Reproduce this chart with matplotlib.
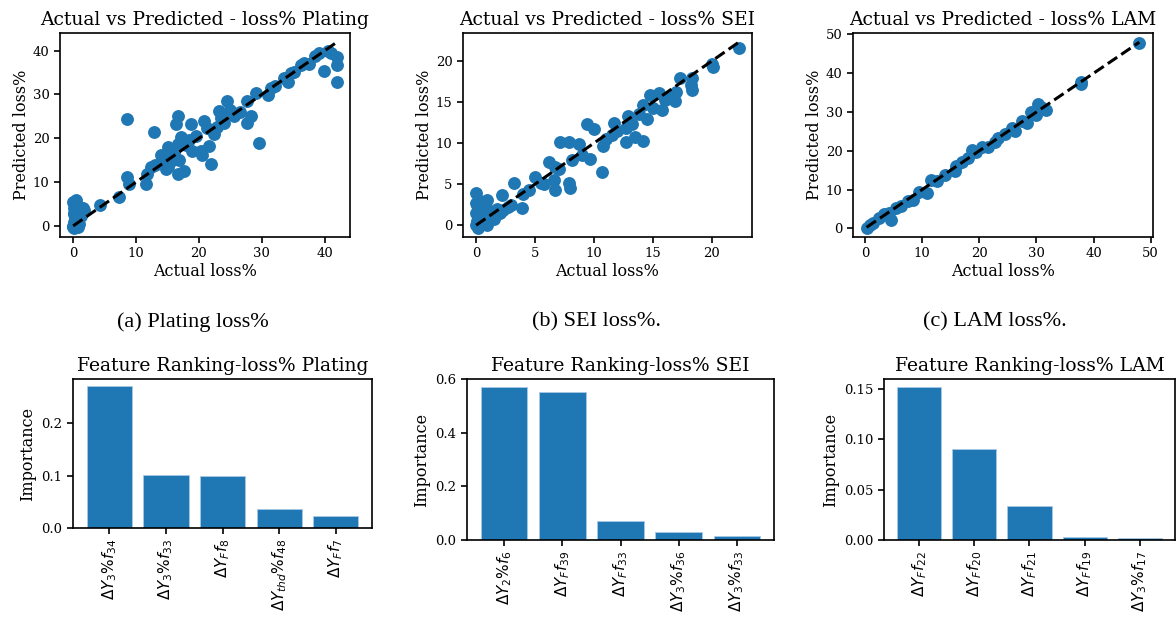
import matplotlib
matplotlib.use("Agg")
import matplotlib.pyplot as plt
from matplotlib.ticker import MultipleLocator
import numpy as np

plt.rcParams['font.family'] = 'DejaVu Serif'

# --- scatter data: actual vs predicted ---
plating_actual = [0.0, 0.2, 0.1, 0.3, 0.2, 0.1, 0.3, 0.5, 0.0, 0.8, 1.0, 1.5, 1.8, 0.6, 1.0,
                  0.8, 0.4, 0.7, 1.2, 0.0, 0.2, 0.8, 0.5, 0.1,
                  4.3, 7.3, 8.6, 8.9, 8.6, 11.5, 11.8, 12.3, 12.8, 13.9, 15.0, 15.5, 15.0,
                  16.0, 16.6, 17.6, 16.6, 17.1, 18.4, 18.9, 16.6, 16.3, 18.7, 20.8, 20.3,
                  20.5, 21.6, 21.9, 22.4, 21.3, 23.2, 23.5, 24.5, 25.6, 27.7, 28.2, 27.7,
                  29.0, 29.5, 30.9, 31.4, 34.1, 34.6, 35.1, 36.2, 36.7, 39.1, 39.8, 41.0,
                  41.9, 41.9, 41.9, 14.5, 15.8, 16.9, 17.2, 19.5, 22.8, 24.0, 26.5, 32.0,
                  33.5, 37.5, 38.5, 40.5, 13.0, 18.0, 14.8, 25.0]
plating_pred = [0.0, 0.5, 1.0, 2.0, 3.0, 4.0, 5.0, 5.8, 5.5, 4.5, 3.5, 4.0, 3.6, 2.5, 0.5,
                0.2, 1.5, 1.0, 2.2, -0.3, -0.4, -0.2, 4.8, 2.8,
                4.8, 6.6, 11.1, 9.6, 24.3, 9.6, 11.9, 13.4, 21.5, 16.1, 13.4, 14.9, 18.0,
                16.5, 11.9, 12.6, 18.6, 20.2, 19.7, 17.2, 25.0, 23.2, 23.2, 23.9, 17.2,
                16.1, 18.3, 14.1, 21.0, 22.4, 26.2, 24.7, 28.4, 25.0, 23.5, 25.0, 28.4,
                30.3, 18.9, 29.9, 31.4, 32.9, 34.8, 35.2, 36.7, 37.2, 39.4, 35.4, 39.4,
                32.8, 36.7, 38.6, 15.5, 17.0, 15.0, 19.0, 20.5, 22.5, 23.5, 26.0, 32.0,
                33.8, 37.0, 38.8, 40.0, 13.8, 18.5, 13.0, 26.5]

sei_actual = [0.0, 0.1, 0.2, 0.0, 0.3, 0.5, 0.1, 0.4, 0.8, 1.0, 1.3, 0.2, 0.6, 0.0, 0.9,
              1.5, 2.0, 0.3, 0.7, 0.0,
              0.9, 2.2, 2.3, 3.2, 3.9, 4.5, 5.0, 6.2, 6.7, 6.6, 6.7, 7.1, 7.9, 8.0, 8.1,
              7.9, 8.7, 9.7, 9.4, 10.0, 10.7, 10.8, 11.7, 12.7, 13.2, 12.9, 12.7, 13.5,
              14.2, 14.2, 14.8, 15.5, 15.8, 16.3, 16.9, 17.3, 18.2, 18.3, 18.3, 20.0,
              20.1, 22.3, 3.0, 4.0, 5.5, 7.0, 9.0, 11.0, 12.0, 13.8, 15.0, 16.0, 17.0,
              2.7, 1.8, 5.8, 11.5, 14.5]
sei_pred = [0.0, 0.5, 1.0, 1.5, 2.0, 0.3, 2.5, 1.2, 0.6, 1.8, 1.0, -0.3, 2.3, 2.7, 0.0,
            0.8, 1.5, 3.0, 0.2, 3.9,
            3.1, 3.7, 1.9, 5.1, 2.1, 4.3, 5.9, 7.7, 7.1, 5.5, 4.3, 10.1, 10.1, 4.5, 7.9,
            5.1, 9.9, 8.1, 12.3, 11.7, 6.5, 9.7, 12.5, 11.9, 12.3, 13.3, 10.1, 10.7,
            14.7, 10.3, 15.9, 16.1, 14.1, 15.5, 15.1, 17.9, 17.1, 17.9, 16.5, 19.7,
            19.3, 21.6, 2.5, 3.8, 5.2, 6.8, 8.5, 10.5, 11.5, 13.5, 14.3, 15.3, 16.2,
            2.2, 2.0, 5.0, 11.0, 13.0]

lam_actual = [0.3, 0.9, 3.3, 4.2, 4.5, 6.3, 8.5, 10.9, 11.5, 12.7, 15.7, 16.0, 18.1, 18.7,
              20.5, 22.7, 23.3, 25.7, 26.3, 28.4, 29.9, 30.2, 31.7, 37.8, 37.8, 48.0,
              1.5, 2.5, 5.5, 7.5, 9.5, 14.0, 17.0, 19.5, 21.5, 24.5, 27.5, 29.0, 30.8]
lam_pred = [0.2, 1.0, 3.6, 4.0, 2.3, 5.7, 7.4, 9.1, 12.6, 12.1, 14.7, 16.0, 18.1, 20.3,
            21.1, 22.4, 23.2, 25.8, 25.0, 27.1, 29.2, 32.2, 30.5, 37.8, 37.3, 47.8,
            1.3, 2.6, 5.2, 7.0, 9.4, 13.8, 17.2, 19.6, 21.0, 24.3, 27.8, 30.0, 31.2]

# --- feature ranking data ---
plating_feats = [r'$\Delta Y_3\%f_{34}$', r'$\Delta Y_3\%f_{33}$', r'$\Delta Y_Ff_8$',
                 r'$\Delta Y_{thd}\%f_{48}$', r'$\Delta Y_Ff_7$']
plating_imp = [0.271, 0.102, 0.0997, 0.036, 0.0235]

sei_feats = [r'$\Delta Y_2\%f_6$', r'$\Delta Y_Ff_{39}$', r'$\Delta Y_Ff_{33}$',
             r'$\Delta Y_3\%f_{36}$', r'$\Delta Y_3\%f_{33}$']
sei_imp = [0.572, 0.554, 0.0725, 0.031, 0.014]

lam_feats = [r'$\Delta Y_Ff_{22}$', r'$\Delta Y_Ff_{20}$', r'$\Delta Y_Ff_{21}$',
             r'$\Delta Y_Ff_{19}$', r'$\Delta Y_3\%f_{17}$']
lam_imp = [0.152, 0.0901, 0.0336, 0.003, 0.0023]

names = ['Plating', 'SEI', 'LAM']
captions = ['(a) Plating loss%', '(b) SEI loss%.', '(c) LAM loss%.']

fig = plt.figure(figsize=(11.76, 6.17), dpi=100)

# hand placed axes to follow the composite layout
top_pos = [[0.051, 0.616, 0.2466, 0.3306],
           [0.3937, 0.616, 0.2457, 0.3306],
           [0.7253, 0.616, 0.2551, 0.3306]]
bot_pos = [[0.0621, 0.1442, 0.2543, 0.2415],
           [0.3971, 0.1248, 0.2611, 0.2609],
           [0.7517, 0.1248, 0.2474, 0.2609]]
cap_x = [193 / 1176, 597 / 1176, 995 / 1176]
bar_step = [0.1, 0.2, 0.05]

scat = [(plating_actual, plating_pred), (sei_actual, sei_pred), (lam_actual, lam_pred)]
bars = [(plating_feats, plating_imp), (sei_feats, sei_imp), (lam_feats, lam_imp)]

for i in range(3):
    ax = fig.add_axes(top_pos[i])
    act, pred = scat[i]
    ax.scatter(act, pred, s=68, color='#1f77b4')
    lo, hi = min(act), max(act)
    ax.plot([lo, hi], [lo, hi], 'k--', lw=2.2)
    ax.set_title(f'Actual vs Predicted - loss% {names[i]}', fontsize=13.5)
    ax.set_xlabel('Actual loss%', fontsize=11.5, labelpad=2)
    ax.set_ylabel('Predicted loss%', fontsize=11.5, labelpad=2)
    ax.tick_params(labelsize=9.5, width=1.2, length=4)
    for sp in ax.spines.values():
        sp.set_linewidth(1.2)

    fig.text(cap_x[i], 0.478, captions[i], ha='center', va='center',
             fontsize=16, family='Liberation Serif')

    bx = fig.add_axes(bot_pos[i])
    feats, imp = bars[i]
    bx.bar(range(len(imp)), imp, color='#1f77b4', edgecolor='#a9c9e4', linewidth=0.6)
    bx.set_xticks(range(len(imp)))
    bx.set_xticklabels(feats, rotation=90, fontsize=11)
    bx.yaxis.set_major_locator(MultipleLocator(bar_step[i]))
    bx.set_ylim(0, max(imp) * 1.05 + 1e-4)
    bx.set_title(f'Feature Ranking-loss% {names[i]}', fontsize=13.5)
    bx.set_ylabel('Importance', fontsize=11.5)
    bx.tick_params(axis='y', labelsize=9.5)
    bx.tick_params(width=1.2, length=4)
    for sp in bx.spines.values():
        sp.set_linewidth(1.2)

fig.savefig('out.png', dpi=100)
